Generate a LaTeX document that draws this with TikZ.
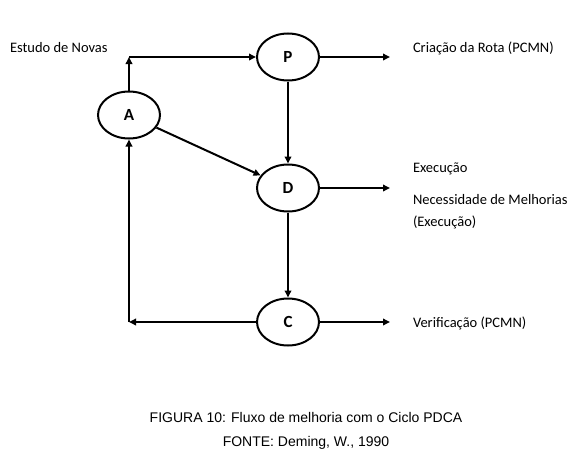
\documentclass[tikz,border=0pt]{standalone}
\usepackage{fontspec}
\setmainfont{Carlito}
\newfontfamily\captionfont{Liberation Sans}
\usetikzlibrary{shapes.geometric, arrows.meta}

\begin{document}
\begin{tikzpicture}[x=1pt, y=-1pt, line width=2pt,
    stage/.style={draw, ellipse, minimum width=62pt, minimum height=47pt, inner sep=0pt,
        font=\fontsize{17}{20}\selectfont\bfseries},
    flow/.style={-{Triangle[length=7pt,width=6.5pt]}},
    info/.style={anchor=base west, inner sep=0pt, font=\fontsize{14.5}{17}\selectfont},
    legend/.style={anchor=base, inner sep=0pt, font=\captionfont\fontsize{14}{17}\selectfont}]
    \useasboundingbox (0,0) rectangle (567,463);

    % PDCA stages
    \node[stage] (a) at (129,115) {A};
    \node[stage] (p) at (288,57) {P};
    \node[stage] (d) at (288,188) {D};
    \node[stage] (c) at (288,322) {C};

    % corners and loose ends
    \coordinate (top) at (129,57);
    \coordinate (bottom) at (129,322);
    \coordinate (pout) at (390,57);
    \coordinate (dout) at (390,188);
    \coordinate (cout) at (390,322);

    % cycle
    \draw[flow] (a) -- (top);
    \draw[flow] (top) -- (p);
    \draw[flow] (p) -- (d);
    \draw[flow] (a) -- (d);
    \draw[flow] (d) -- (c);
    \draw[flow] (c) -- (bottom);
    \draw[flow] (bottom) -- (a);

    % outputs
    \draw[flow] (p) -- (pout);
    \draw[flow] (d) -- (dout);
    \draw[flow] (c) -- (cout);

    % texts
    \node[info] (novas) at (9,52) {Estudo de Novas};
    \node[info] (rota) at (412,52) {Criação da Rota (PCMN)};
    \node[info] (exec) at (412,172) {Execução};
    \node[info] (necess) at (412,204) {Necessidade de Melhorias};
    \node[info] (exec2) at (412,226) {(Execução)};
    \node[info] (verif) at (412,327) {Verificação (PCMN)};

    % caption
    \node[legend] (fig) at (306,422) {FIGURA 10: Fluxo de melhoria com o Ciclo PDCA};
    \node[legend] (fonte) at (306,446) {FONTE: Deming, W., 1990};
\end{tikzpicture}
\end{document}
